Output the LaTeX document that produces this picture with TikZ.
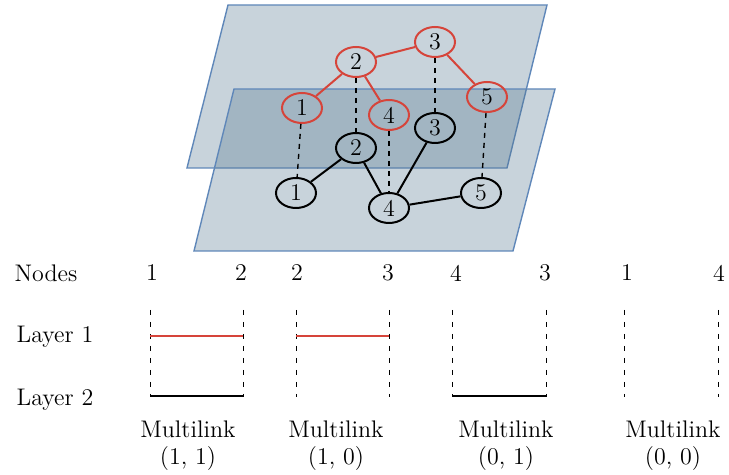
\documentclass[tikz,border=0pt]{standalone}
\usepackage{xcolor}
\usepackage{tikz}
\usetikzlibrary{positioning, shapes.geometric}
\definecolor{planefill}{RGB}{83,118,142}
\definecolor{planeedge}{RGB}{95,135,185}
\definecolor{linkred}{RGB}{214,68,58}

\begin{document}
\begin{tikzpicture}[x=0.5pt, y=-0.5pt, font=\fontsize{12}{13.5}\selectfont,
    plane/.style={draw=planeedge, line width=0.7pt, fill=planefill, fill opacity=0.32},
    red_node/.style={ellipse, draw=linkred, line width=1pt, minimum width=20pt, minimum height=15pt, inner sep=0pt},
    black_node/.style={ellipse, draw=black, line width=1pt, minimum width=20pt, minimum height=15pt, inner sep=0pt},
    red_link/.style={draw=linkred, line width=1pt},
    black_link/.style={draw=black, line width=1pt},
    drop_line/.style={line width=0.45pt, dash pattern=on 2.5pt off 3.5pt}]
            \useasboundingbox (0,0) rectangle (729,475);

            % the two layers
            \path[plane] (228,5) -- (547,5) -- (507,168) -- (187,168) -- cycle;
            \path[plane] (234,89) -- (555,89) -- (513,251) -- (194,251) -- cycle;

            % layer 1
            \node (up_one) [red_node] at (302,108) {1};
            \node (up_two) [red_node] at (356,62) {2};
            \node (up_three) [red_node] at (435,42) {3};
            \node (up_four) [red_node] at (389,115) {4};
            \node (up_five) [red_node] at (487,97) {5};

            % layer 2
            \node (low_one) [black_node] at (296,193) {1};
            \node (low_two) [black_node] at (356,148) {2};
            \node (low_three) [black_node] at (435,128) {3};
            \node (low_four) [black_node] at (389,208) {4};
            \node (low_five) [black_node] at (481,193) {5};

                \draw[red_link] (up_one) -- (up_two);
                \draw[red_link] (up_two) -- (up_three);
                \draw[red_link] (up_two) -- (up_four);
                \draw[red_link] (up_three) -- (up_five);

                \draw[black_link] (low_one) -- (low_two);
                \draw[black_link] (low_two) -- (low_four);
                \draw[black_link] (low_four) -- (low_three);
                \draw[black_link] (low_four) -- (low_five);

                \draw[line width=0.7pt, dash pattern=on 2.5pt off 2.5pt] (up_one) -- (low_one);
                \draw[line width=0.7pt, dash pattern=on 2.5pt off 2.5pt] (up_two) -- (low_two);
                \draw[line width=0.7pt, dash pattern=on 2.5pt off 2.5pt] (up_three) -- (low_three);
                \draw[line width=0.7pt, dash pattern=on 2.5pt off 2.5pt] (up_four) -- (low_four);
                \draw[line width=0.7pt, dash pattern=on 2.5pt off 2.5pt] (up_five) -- (low_five);

            % multilinks
            \node (nodes_label) at (46,273) {Nodes};
            \node (layer_one_label) at (55,337) {Layer 1};
            \node (layer_two_label) at (55,400) {Layer 2};

            \node (pair_a_left) at (152,273) {1};
            \node (pair_a_right) at (241,273) {2};
            \node (pair_b_left) at (297,273) {2};
            \node (pair_b_right) at (388,273) {3};
            \node (pair_c_left) at (456,273) {4};
            \node (pair_c_right) at (545,273) {3};
            \node (pair_d_left) at (627,273) {1};
            \node (pair_d_right) at (719,273) {4};

                \foreach \x in {150,243,296,389,452,546,624,718}
                    \draw[drop_line] (\x,310) -- (\x,397);

                \draw[red_link] (150,336) -- (243,336);
                \draw[red_link] (296,336) -- (389,336);
                \draw[black_link] (150,396) -- (243,396);
                \draw[black_link] (452,396) -- (546,396);

            \node (multi_a) [align=center] at (188,446) {Multilink\\(1, 1)};
            \node (multi_b) [align=center] at (336,446) {Multilink\\(1, 0)};
            \node (multi_c) [align=center] at (506,446) {Multilink\\(0, 1)};
            \node (multi_d) [align=center] at (673,446) {Multilink\\(0, 0)};
            \end{tikzpicture}
\end{document}
